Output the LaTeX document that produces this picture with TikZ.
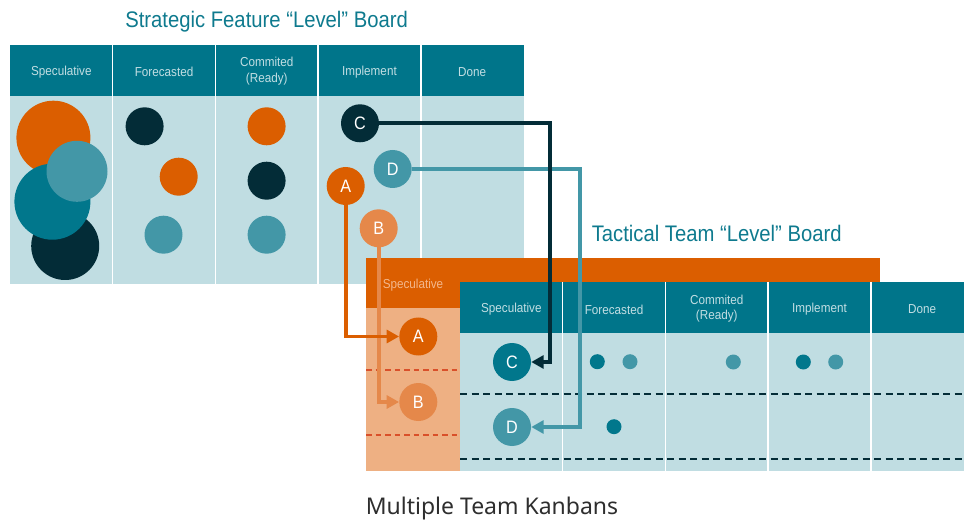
\documentclass[tikz,border=0pt]{standalone}
\usepackage{fontspec}
\setmainfont{Liberation Sans}
\newfontfamily\condfont[FakeStretch=0.9]{Liberation Sans}
\newfontfamily\capfont{Noto Sans}
\usetikzlibrary{arrows.meta}

\definecolor{hdrteal}{HTML}{00758A}
\definecolor{bodyblue}{HTML}{C0DDE2}
\definecolor{titleteal}{HTML}{0E7A8E}
\definecolor{navy}{HTML}{032C37}
\definecolor{orng}{HTML}{DB5E00}
\definecolor{lorng}{HTML}{E5884A}
\definecolor{paleorng}{HTML}{EEB083}
\definecolor{lteal}{HTML}{4397A7}
\definecolor{mteal}{HTML}{01778C}
\definecolor{reddash}{HTML}{D9502A}
\definecolor{hdrtext}{HTML}{C2DEE3}
\definecolor{orngtext}{HTML}{F3B78C}
\definecolor{captext}{HTML}{2E2E2E}

\tikzset{
  colhead/.style={font=\condfont\fontsize{13}{15.5}\selectfont, text=hdrtext, align=center, inner sep=0pt},
  boardtitle/.style={font=\condfont\fontsize{22.5}{24}\selectfont, text=titleteal, anchor=base, inner sep=0pt},
  blob/.style={circle, inner sep=0pt, minimum size=#1},
  card/.style={circle, inner sep=0pt, minimum size=38pt, text=white, font=\condfont\fontsize{18}{18}\selectfont},
  tinydot/.style={circle, inner sep=0pt, minimum size=15pt},
  divider/.style={draw=white, line width=1.5pt},
  rowsep/.style={line width=2pt, dash pattern=on 7pt off 4.5pt},
  lanesep/.style={line width=2pt, reddash, dash pattern=on 5.5pt off 4pt},
  link/.style={line width=3.8pt, -{Triangle[length=12.5pt,width=13pt]}},
}

\begin{document}
\begin{tikzpicture}[x=1pt, y=-1pt]
\useasboundingbox (0,0) rectangle (964,521);

% ---------- Strategic board ----------
\fill[bodyblue] (10,96) rectangle (523.5,284);
\fill[hdrteal] (10,45) rectangle (523.5,96);
\foreach \xx in {112.7,215.4,318.1,420.8}
  \draw[divider] (\xx,45) -- (\xx,284);

\node[boardtitle] (stitle) at (266.6,27.7) {Strategic Feature “Level” Board};

\node[colhead] (sh1) at (61.35,72) {Speculative};
\node[colhead] (sh2) at (164.05,72) {Forecasted};
\node[colhead] (sh3) at (266.75,71) {Commited\\(Ready)};
\node[colhead] (sh4) at (369.45,72) {Implement};
\node[colhead] (sh5) at (472.15,72) {Done};

% speculative features
\node[blob=68pt, fill=navy] (sp4) at (65.2,246) {};
\node[blob=74pt, fill=orng] (sp1) at (53.4,137.7) {};
\node[blob=76pt, fill=mteal] (sp3) at (52.4,201.7) {};
\node[blob=61pt, fill=lteal] (sp2) at (77,171.3) {};

% forecasted features
\node[blob=38pt, fill=navy] (fc1) at (144.6,126.3) {};
\node[blob=38pt, fill=orng] (fc2) at (178.7,176.7) {};
\node[blob=38pt, fill=lteal] (fc3) at (163.5,234.7) {};

% committed features
\node[blob=38pt, fill=orng] (cm1) at (266.6,126.3) {};
\node[blob=38pt, fill=navy] (cm2) at (266.6,180.7) {};
\node[blob=38pt, fill=lteal] (cm3) at (266.6,234.7) {};

% features in implementation
\node[card, fill=navy] (C1) at (360,123.3) {C};
\node[card, fill=lteal] (D1) at (392.7,169) {D};
\node[card, fill=orng] (A1) at (345.7,186) {A};
\node[card, fill=lorng] (B1) at (378.7,228.3) {B};

% ---------- Team boards ----------
\fill[orng] (366,258) rectangle (880,308);
\fill[paleorng] (366,308) rectangle (460,471);
\node[font=\condfont\fontsize{13}{15}\selectfont, text=orngtext, inner sep=0pt] (oh1) at (413,285.5) {Speculative};
\draw[lanesep] (366,370) -- (460,370);
\draw[lanesep] (366,435) -- (460,435);

\fill[bodyblue] (460,333) rectangle (964,471);
\fill[hdrteal] (460,282) rectangle (964,333);
\foreach \xx in {562.7,665.4,768.1,870.8}
  \draw[divider] (\xx,282) -- (\xx,471);
\draw[rowsep, navy] (460,394.3) -- (964,394.3);
\draw[rowsep, navy] (460,459.3) -- (964,459.3);

\node[boardtitle] (ttitle) at (716.7,241.7) {Tactical Team “Level” Board};

\node[colhead] (th1) at (511.35,309.5) {Speculative};
\node[colhead] (th2) at (614.05,309.5) {Forecasted};
\node[colhead] (th3) at (716.75,308.5) {Commited\\(Ready)};
\node[colhead] (th4) at (819.45,309.5) {Implement};
\node[colhead] (th5) at (922.15,309.5) {Done};

\node[card, fill=orng] (A2) at (418.3,336.5) {A};
\node[card, fill=lorng] (B2) at (418.3,402) {B};
\node[card, fill=mteal] (C2) at (512,362) {C};
\node[card, fill=lteal] (D2) at (512,427) {D};

\node[tinydot, fill=mteal] (t1) at (597.3,361.7) {};
\node[tinydot, fill=lteal] (t2) at (630,361.7) {};
\node[tinydot, fill=lteal] (t3) at (733.3,362) {};
\node[tinydot, fill=mteal] (t4) at (803.3,362) {};
\node[tinydot, fill=lteal] (t5) at (835.7,362) {};
\node[tinydot, fill=mteal] (t6) at (614,426.7) {};

% ---------- Hand-offs from feature board to team boards ----------
\draw[link, lteal] (D1.east) -| ([xshift=49pt]D2.east) -- (D2.east);
\draw[link, navy] (C1.east) -| ([xshift=19pt]C2.east) -- (C2.east);
\draw[link, lorng] (B1.south) |- (B2.west);
\draw[link, orng] (A1.south) |- (A2.west);

\node[font=\capfont\fontsize{23}{26}\selectfont, text=captext, anchor=base, inner sep=0pt] (cap) at (492,514) {Multiple Team Kanbans};
\end{tikzpicture}
\end{document}
